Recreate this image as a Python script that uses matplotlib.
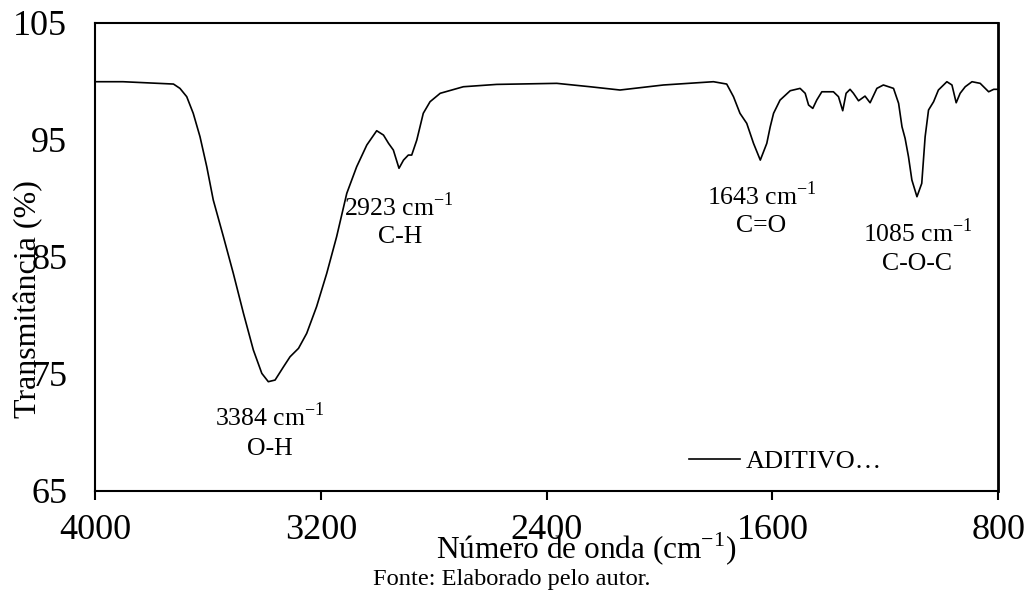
import matplotlib
matplotlib.use("Agg")
import matplotlib.pyplot as plt

plt.rcParams["font.family"] = ["Liberation Serif", "DejaVu Serif"]
plt.rcParams["mathtext.fontset"] = "custom"
plt.rcParams["mathtext.rm"] = "Liberation Serif"

# FTIR spectrum
wavenumber = [4000, 3901, 3722, 3699, 3675, 3652, 3628, 3604, 3581, 3545,
              3510, 3474, 3439, 3409, 3386, 3362, 3332, 3309, 3279, 3250,
              3215, 3179, 3144, 3108, 3073, 3037, 3002, 2978, 2960, 2943,
              2923, 2907, 2890, 2878, 2860, 2837, 2813, 2777, 2695, 2577,
              2364, 2246, 2140, 1986, 1809, 1762, 1738, 1715, 1691, 1667,
              1643, 1620, 1608, 1596, 1573, 1537, 1502, 1484, 1472, 1457,
              1443, 1425, 1384, 1366, 1351, 1339, 1325, 1313, 1295, 1272,
              1254, 1230, 1207, 1171, 1153, 1141, 1130, 1118, 1106, 1088,
              1071, 1059, 1047, 1029, 1012, 982, 964, 949, 935, 917,
              893, 864, 834, 816, 800]
transmittance = [99.96, 99.96, 99.76, 99.39, 98.68, 97.26, 95.26, 92.69, 89.85, 86.71,
                 83.58, 80.16, 77.03, 75.03, 74.32, 74.46, 75.60, 76.45, 77.17, 78.45,
                 80.73, 83.58, 86.71, 90.42, 92.69, 94.55, 95.77, 95.40, 94.69, 94.12,
                 92.56, 93.26, 93.69, 93.69, 94.97, 97.26, 98.25, 98.97, 99.53, 99.73,
                 99.82, 99.53, 99.25, 99.68, 99.96, 99.76, 98.68, 97.26, 96.40, 94.69,
                 93.26, 94.69, 96.09, 97.26, 98.39, 99.19, 99.39, 98.97, 97.97, 97.68,
                 98.39, 99.10, 99.10, 98.68, 97.48, 98.97, 99.31, 98.97, 98.33, 98.73,
                 98.16, 99.39, 99.68, 99.39, 98.11, 96.11, 95.12, 93.55, 91.56, 90.13,
                 91.27, 95.26, 97.54, 98.25, 99.25, 99.96, 99.68, 98.16, 98.97, 99.53,
                 99.96, 99.82, 99.10, 99.31, 99.31]

band_labels = ["3384", "2923", "1643", "1085"]
band_groups = ["O-H", "C-H", "C=O", "C-O-C"]
label_x = [3380, 2923, 1636, 1083]
label_y = [71.3, 89.3, 90.2, 87.1]
group_x = [3380, 2919, 1640, 1087]
group_y = [68.6, 86.7, 87.6, 84.4]

x_ticks = [4000, 3200, 2400, 1600, 800]
y_ticks = [65, 75, 85, 95, 105]

fig = plt.figure(figsize=(10.27, 5.97), dpi=100)
ax = fig.add_axes([0.0925, 0.178, 0.8795, 0.7839])

ax.plot(wavenumber, transmittance, color="black", lw=1.2, label="ADITIVO…")

for lab, grp, lx, ly, gx, gy in zip(band_labels, band_groups, label_x, label_y, group_x, group_y):
    ax.text(lx, ly, lab + r" cm$^{\mathregular{-1}}$", ha="center", va="center", fontsize=18.5)
    ax.text(gx, gy, grp, ha="center", va="center", fontsize=18.5)

ax.set_xlim(4000, 800)
ax.set_ylim(65, 105)
ax.set_xticks(x_ticks)
ax.set_yticks(y_ticks)
ax.tick_params(axis="x", direction="out", length=6.5, width=1.5, pad=10, labelsize=26)
ax.tick_params(axis="y", length=0, pad=20, labelsize=26)
for side in ["left", "bottom", "top", "right"]:
    ax.spines[side].set_linewidth(1.5)
ax.spines["right"].set_linewidth(2)

ax.set_ylabel("Transmitância (%)", fontsize=23)
ax.yaxis.set_label_coords(-0.057, 0.41)
ax.set_xlabel(r"Número de onda (cm$^{\mathregular{-1}}$)", fontsize=22.5, va="center")
ax.xaxis.set_label_coords(0.5436, -0.125)

ax.legend(loc="center left", bbox_to_anchor=(0.6576, 0.062), frameon=False,
          fontsize=19, handlelength=1.95, handletextpad=0.2, borderpad=0, borderaxespad=0)

fig.text(0.4985, 0.029, "Fonte: Elaborado pelo autor.", ha="center", va="center", fontsize=17.6)

fig.savefig("out.png", dpi=100)
